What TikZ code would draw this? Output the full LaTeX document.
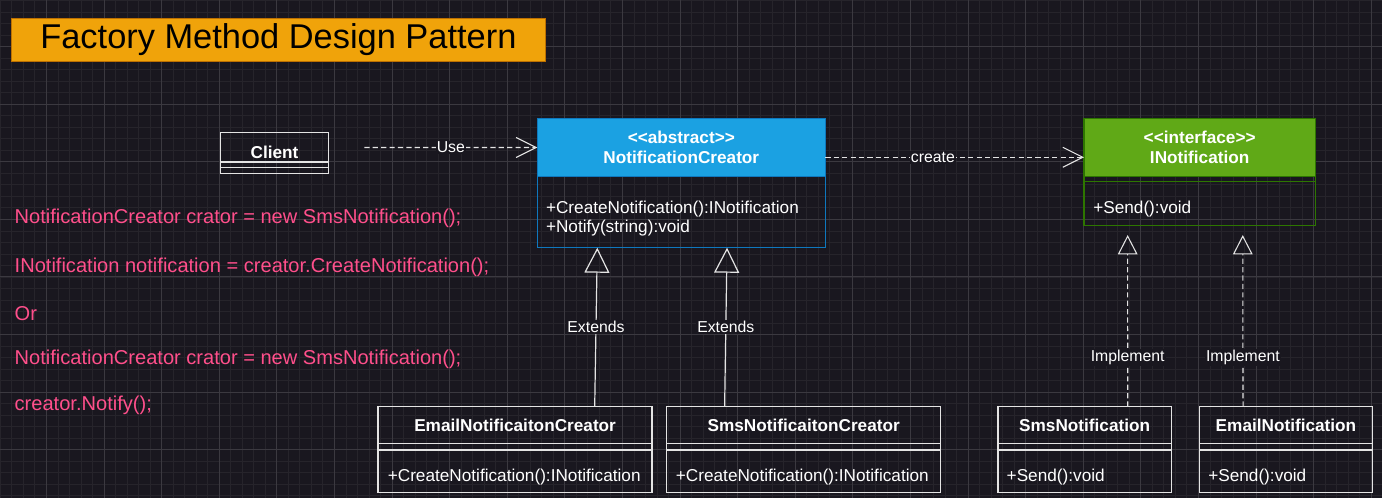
\documentclass[tikz,border=0pt]{standalone}
\usepackage{fontspec}
\setmainfont{Liberation Sans}[Ligatures=TeXOff]
\usetikzlibrary{arrows.meta}

\definecolor{canvas}{HTML}{19171F}
\definecolor{gridmajor}{HTML}{3B3940}
\definecolor{gridminor}{HTML}{26242B}
\definecolor{titlefill}{HTML}{F0A30A}
\definecolor{titleline}{HTML}{BD7000}
\definecolor{abstractfill}{HTML}{1BA1E2}
\definecolor{abstractline}{HTML}{0E78BE}
\definecolor{ifacefill}{HTML}{60A917}
\definecolor{ifaceline}{HTML}{2D7600}
\definecolor{codepink}{HTML}{FF4F8B}
\definecolor{boxline}{HTML}{E4E4E4}

\begin{document}
\begin{tikzpicture}[x=0.75pt, y=-0.75pt,
    every node/.style={inner sep=0pt, outer sep=0pt},
    classhead/.style={draw=boxline, line width=1.1pt, text=white, align=center, anchor=north west, font=\bfseries\fontsize{12.9}{14.8}\selectfont},
    classpart/.style={draw=boxline, line width=1.1pt, anchor=north west},
    member/.style={text=white, anchor=base west, font=\fontsize{12.9}{14.8}\selectfont},
    codeline/.style={text=codepink, anchor=base west, font=\fontsize{15.05}{18}\selectfont},
    edgelabel/.style={fill=canvas, text=white, inner sep=0.8pt, font=\fontsize{11.85}{14}\selectfont},
    dep/.style={draw=boxline, line width=0.8pt, dash pattern=on 3.9pt off 2.4pt, -{Straight Barb[length=15pt, width=15pt, line width=0.8pt]}},
    extends/.style={draw=boxline, line width=0.9pt, -{Triangle[open, length=18.75pt, width=18.75pt, line width=0.9pt]}},
    realize/.style={draw=boxline, line width=0.8pt, dash pattern=on 3.9pt off 2.4pt, shorten >=7.3pt, -{Triangle[open, length=14.5pt, width=14.7pt, line width=0.8pt]}}]

    \useasboundingbox (0,0) rectangle (1382,498);
    \fill[canvas] (0,0) rectangle (1382,498);
    \foreach \k in {-4,...,116} \draw[gridminor, line width=0.6pt] ({46.4+11.52*\k},0) -- ++(0,498);
    \foreach \k in {-4,...,39} \draw[gridminor, line width=0.6pt] (0,{46.6+11.52*\k}) -- ++(1382,0);
    \foreach \k in {0,...,23} \draw[gridmajor, line width=0.75pt] ({46.4+57.6*\k},0) -- ++(0,498);
    \foreach \k in {0,...,7} \draw[gridmajor, line width=0.75pt] (0,{46.6+57.6*\k}) -- ++(1382,0);

    \node[draw=titleline, fill=titlefill, line width=1pt, minimum width=400.5pt, minimum height=32.7pt, font=\fontsize{25.8}{31}\selectfont] (title) at (278.4,40) {Factory Method Design Pattern};

    \node[classhead, minimum width=81.2pt, minimum height=22pt, text height=16.6pt, text depth=0pt] (client) at (220.4,132.7) {Client};
    \node[classpart, minimum width=81.2pt, minimum height=4.3pt] (clientattr) at (220.4,162) {};
    \node[classpart, minimum width=81.2pt, minimum height=4.2pt] (clientops) at (220.4,167.7) {};

    \node[classhead, draw=abstractline, fill=abstractfill, minimum width=216pt, minimum height=43.2pt] (nchead) at (537.3,118.7) {<<abstract>>\\NotificationCreator};
    \node[classpart, draw=abstractline, minimum width=216pt, minimum height=53.55pt] (ncbody) at (537.3,176.3) {};
    \node[member] (ncop1) at (546,213.4) {+CreateNotification():INotification};
    \node[member] (ncop2) at (546,232.8) {+Notify(string):void};

    \node[classhead, draw=ifaceline, fill=ifacefill, minimum width=173.5pt, minimum height=43.2pt] (ifhead) at (1084,118.7) {<<interface>>\\INotification};
    \node[classpart, draw=ifaceline, minimum width=173.5pt, minimum height=4.05pt] (ifattr) at (1084,176.3) {};
    \node[classpart, draw=ifaceline, minimum width=173.5pt, minimum height=32.7pt] (ifbody) at (1084,181.7) {};
    \node[member] (ifop) at (1093.3,213.4) {+Send():void};

    \node[classhead, minimum width=205.5pt, minimum height=27.45pt] (echead) at (378.1,406.7) {EmailNotificaitonCreator};
    \node[classpart, minimum width=205.5pt, minimum height=5pt] (ecattr) at (378.1,443.3) {};
    \node[classpart, minimum width=205.5pt, minimum height=31.7pt] (ecbody) at (378.1,450) {};
    \node[member] (ecop) at (387.8,481.3) {+CreateNotification():INotification};

    \node[classhead, minimum width=205.5pt, minimum height=27.45pt] (schead) at (666.7,406.7) {SmsNotificaitonCreator};
    \node[classpart, minimum width=205.5pt, minimum height=5pt] (scattr) at (666.7,443.3) {};
    \node[classpart, minimum width=205.5pt, minimum height=31.7pt] (scbody) at (666.7,450) {};
    \node[member] (scop) at (675.9,481.3) {+CreateNotification():INotification};

    \node[classhead, minimum width=130pt, minimum height=27.45pt] (snhead) at (998,406.7) {SmsNotification};
    \node[classpart, minimum width=130pt, minimum height=5pt] (snattr) at (998,443.3) {};
    \node[classpart, minimum width=130pt, minimum height=31.7pt] (snbody) at (998,450) {};
    \node[member] (snop) at (1006.7,481.3) {+Send():void};

    \node[classhead, minimum width=130pt, minimum height=27.45pt] (enhead) at (1199.3,406.7) {EmailNotification};
    \node[classpart, minimum width=130pt, minimum height=5pt] (enattr) at (1199.3,443.3) {};
    \node[classpart, minimum width=130pt, minimum height=31.7pt] (enbody) at (1199.3,450) {};
    \node[member] (enop) at (1208.3,481.3) {+Send():void};

    \node[codeline] (code1) at (14.7,223.8) {NotificationCreator crator = new SmsNotification();};
    \node[codeline] (code2) at (14.7,272.2) {INotification notification = creator.CreateNotification();};
    \node[codeline] (code3) at (14.7,321) {Or};
    \node[codeline] (code4) at (14.7,364.9) {NotificationCreator crator = new SmsNotification();};
    \node[codeline] (code5) at (14.7,410.3) {creator.Notify();};

    \coordinate (usestart) at (364.3,147.5);
    \draw[dep] (usestart) -- node[edgelabel] (uselabel) {Use} (nchead.west);
    \draw[dep] ([yshift=-7.35pt]nchead.east) -- node[edgelabel, pos=0.416] (createlabel) {create} ([yshift=-7.35pt]ifhead.west);

    \draw[extends] ([xshift=59.7pt]echead.north) -- node[edgelabel] (extlabel1) {Extends} ([xshift=-63pt]ncbody.south);
    \draw[extends] ([xshift=-59.3pt]schead.north) -- node[edgelabel] (extlabel2) {Extends} ([xshift=34.3pt]ncbody.south);

    \draw[realize] ([xshift=32.3pt]snhead.north) -- node[edgelabel, pos=0.27] (implabel1) {Implement} ([xshift=-54pt]ifbody.south);
    \draw[realize] ([xshift=-32.2pt]enhead.north) -- node[edgelabel, pos=0.27] (implabel2) {Implement} ([xshift=32.3pt]ifbody.south);
\end{tikzpicture}
\end{document}
